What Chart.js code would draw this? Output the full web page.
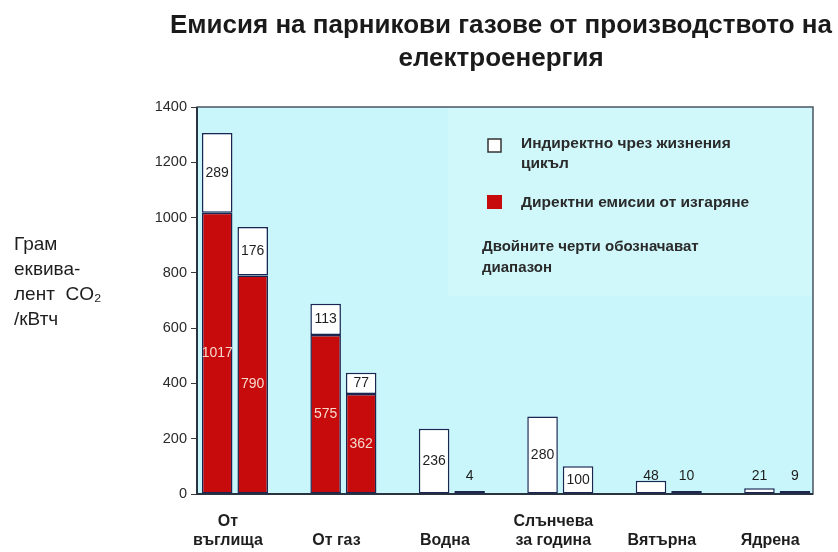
<!doctype html>
<html lang="bg">
  <head>
    <meta charset="utf-8">
    <title>Емисия на парникови газове</title>
    <style>
      * {
        margin: 0;
        padding: 0;
      }
      body {
        background: #ffffff;
      }
    </style>
  </head>
  <body>
    <canvas id="myChart" width="838" height="552"></canvas>
    <script src="https://cdn.jsdelivr.net/npm/chart.js/dist/chart.umd.min.js"></script>
    <script>

    // tick labels under each pair of bars (empty first line keeps one-line labels low)
    const categories = [['От', 'въглища'], ['', 'От газ'], ['', 'Водна'], ['Слънчева', 'за година'], ['', 'Вятърна'], ['', 'Ядрена']];

    // left bar of each pair = upper end of the range
    const directUpper = [1017, 575, null, null, null, null];
    const indirectUpper = [289, 113, 236, 280, 48, 21];

    // right bar of each pair = lower end of the range
    const directLower = [790, 362, null, null, null, null];
    const indirectLower = [176, 77, 4, 100, 10, 9];

    const yTicks = [0, 200, 400, 600, 800, 1000, 1200, 1400];

    const titleLines = ['Емисия на парникови газове от производството на', 'електроенергия'];
    const yTitleLines = ['Грам', 'еквива-', 'лент  CO₂', '/кВтч'];
    const legendIndirect = ['Индиректно чрез жизнения', 'цикъл'];
    const legendDirect = 'Директни емисии от изгаряне';
    const legendNote = ['Двойните черти обозначават', 'диапазон'];

    const FONT = '"Liberation Sans", Arial, sans-serif';
    const RED = '#c70a0b';
    const EDGE = '#1c2450';
    const PLOT_BG = '#c9f6fa';

    // cyan plot area, faint legend panel and the frame around it
    const plotFrame = {
      id: 'plotFrame',
      beforeDatasetsDraw(chart) {
        const {ctx, chartArea: {left, top, right, bottom}} = chart;
        ctx.save();
        ctx.fillStyle = PLOT_BG;
        ctx.fillRect(left, top, right - left, bottom - top);
        ctx.fillStyle = '#d0f8fb';
        ctx.fillRect(448, top + 1, right - 449, 188);

        ctx.strokeStyle = '#4a5560';
        ctx.lineWidth = 1.5;
        ctx.strokeRect(left, top, right - left, bottom - top);
        ctx.strokeStyle = '#2a3340';
        ctx.lineWidth = 2;
        ctx.beginPath();
        ctx.moveTo(left, top);
        ctx.lineTo(left, bottom);
        ctx.lineTo(right, bottom);
        ctx.stroke();
        ctx.restore();
      }
    };

    // numbers written on / above the bars
    const valueLabels = {
      id: 'valueLabels',
      afterDatasetsDraw(chart) {
        const {ctx, scales: {y}} = chart;
        ctx.save();
        ctx.font = '14px ' + FONT;
        ctx.textAlign = 'center';
        ctx.textBaseline = 'middle';
        chart.data.datasets.forEach((ds, i) => {
          const meta = chart.getDatasetMeta(i);
          meta.data.forEach((bar, j) => {
            const v = ds.data[j];
            if (v == null) return;
            let yPos = (bar.y + bar.base) / 2;
            if (v < 60) {
              yPos = y.getPixelForValue(65);
            }
            ctx.fillStyle = ds.labelColor;
            ctx.fillText(String(v), bar.x, yPos);
          });
        });
        ctx.restore();
      }
    };

    // title, legend panel and the unit text on the left
    const sideText = {
      id: 'sideText',
      afterDraw(chart) {
        const ctx = chart.ctx;
        ctx.save();
        ctx.textBaseline = 'middle';

        ctx.textAlign = 'center';
        ctx.fillStyle = '#1a1a1a';
        ctx.font = 'bold 26px ' + FONT;
        titleLines.forEach((t, i) => ctx.fillText(t, 501, 26 + i * 33));

        ctx.textAlign = 'left';
        ctx.fillStyle = '#1e1e1e';
        ctx.font = '19px ' + FONT;
        yTitleLines.forEach((t, i) => ctx.fillText(t, 14, 245 + i * 25));

        ctx.lineWidth = 1.5;
        ctx.strokeStyle = '#333333';
        ctx.fillStyle = '#ffffff';
        ctx.fillRect(488, 139, 13, 13);
        ctx.strokeRect(488, 139, 13, 13);
        ctx.fillStyle = RED;
        ctx.fillRect(487, 195, 15, 14);

        ctx.fillStyle = '#2a2a2a';
        ctx.font = 'bold 15.5px ' + FONT;
        legendIndirect.forEach((t, i) => ctx.fillText(t, 521, 144 + i * 20));
        ctx.fillText(legendDirect, 521, 203);
        ctx.font = 'bold 15px ' + FONT;
        legendNote.forEach((t, i) => ctx.fillText(t, 482, 247 + i * 21));
        ctx.restore();
      }
    };

    const barStyle = {
      borderColor: EDGE,
      borderWidth: 1.5,
      borderSkipped: false,
      minBarLength: 3,
      categoryPercentage: 0.655,
      barPercentage: 0.86
    };

    const data = {
      labels: categories.map((c, i) => i),
      datasets: [
        { ...barStyle, label: legendDirect, data: directUpper, backgroundColor: RED, stack: 'upper', labelColor: '#f6d8cc' },
        { ...barStyle, label: legendIndirect.join(' '), data: indirectUpper, backgroundColor: '#ffffff', stack: 'upper', labelColor: '#1e1e1e' },
        { ...barStyle, label: legendDirect, data: directLower, backgroundColor: RED, stack: 'lower', labelColor: '#f6d8cc' },
        { ...barStyle, label: legendIndirect.join(' '), data: indirectLower, backgroundColor: '#ffffff', stack: 'lower', labelColor: '#1e1e1e' }
      ]
    };

    const config = {
      type: 'bar',
      data,
      options: {
        responsive: false,
        animation: false,
        devicePixelRatio: 1,
        layout: {
          padding: { left: 150, right: 25, top: 107, bottom: 0 }
        },
        plugins: {
          legend: { display: false },
          tooltip: { enabled: false },
          title: { display: false }
        },
        scales: {
          x: {
            type: 'linear',
            stacked: true,
            min: -0.35,
            max: 5.33,
            offset: false,
            afterBuildTicks: (scale) => {
              scale.ticks = categories.map((c, i) => ({ value: i }));
            },
            afterFit: (scale) => {
              scale.height = 58;
            },
            grid: { display: false, drawTicks: false },
            border: { display: false },
            ticks: {
              autoSkip: false,
              maxRotation: 0,
              padding: 18,
              labelOffset: -7,
              color: '#1e1e1e',
              font: { family: FONT, size: 16, weight: 'bold', lineHeight: 1.2 },
              callback: (value) => categories[Math.round(value)]
            }
          },
          y: {
            stacked: true,
            min: 0,
            max: 1400,
            afterBuildTicks: (scale) => {
              scale.ticks = yTicks.map(v => ({ value: v }));
            },
            afterFit: (scale) => {
              scale.width = 47;
            },
            grid: {
              drawOnChartArea: false,
              drawTicks: true,
              tickLength: 6,
              color: '#3a3a3a'
            },
            border: { display: false },
            ticks: {
              padding: 4,
              color: '#2a2a2a',
              font: { family: FONT, size: 14.5 },
              callback: (value) => String(value)
            }
          }
        }
      },
      plugins: [plotFrame, valueLabels, sideText]
    };

    const myChart = new Chart(document.getElementById('myChart'), config);
    </script>
  </body>
</html>
